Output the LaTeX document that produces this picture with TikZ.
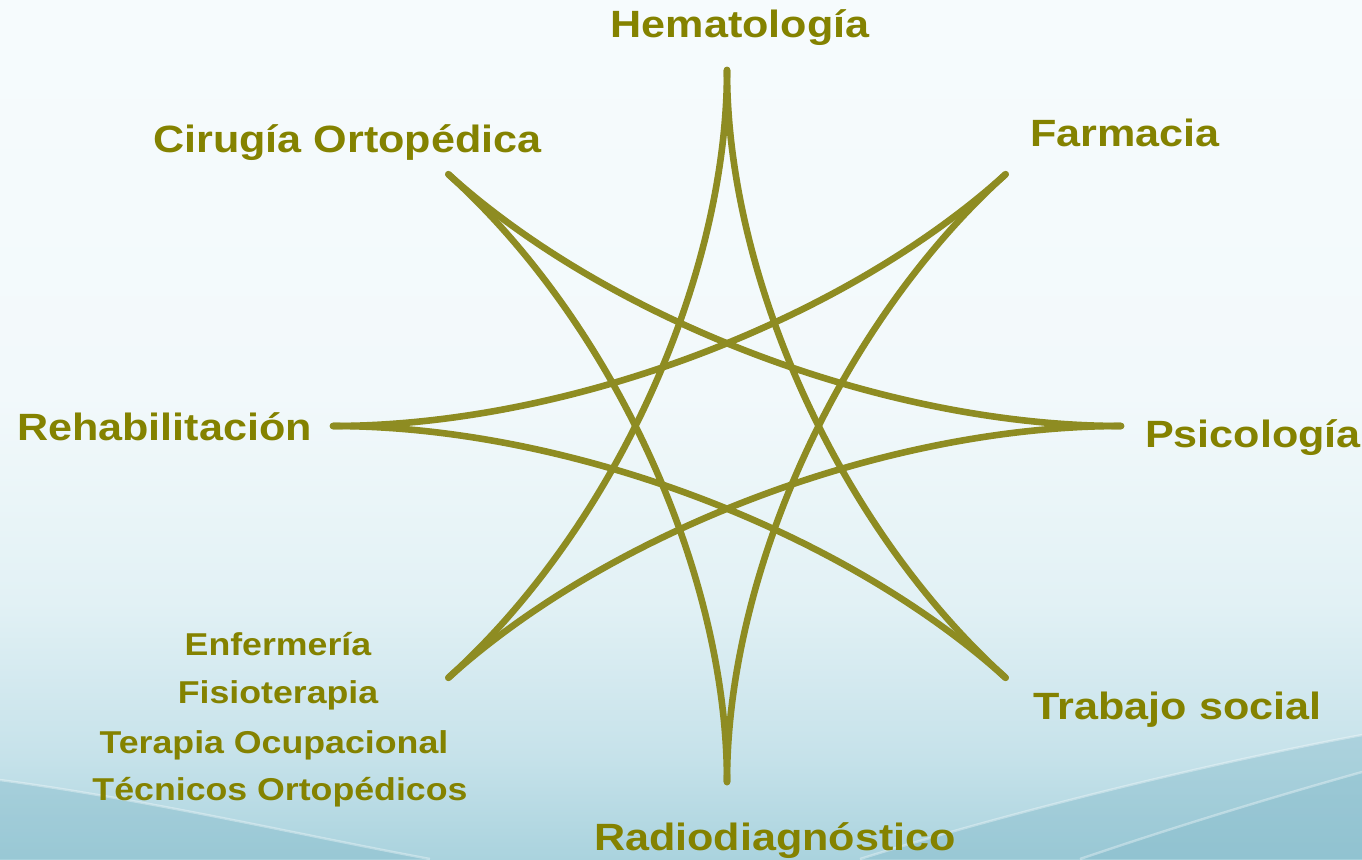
\documentclass[tikz,border=0pt]{standalone}
\usepackage{fontspec}
\setmainfont{Liberation Sans}
\definecolor{starcol}{RGB}{142,140,34}
\definecolor{labcol}{RGB}{132,130,0}
\definecolor{bgT}{RGB}{246,251,253}
\definecolor{bgA}{RGB}{242,249,251}
\definecolor{bgB}{RGB}{226,241,245}
\definecolor{bgC}{RGB}{198,226,234}
\definecolor{bgD}{RGB}{170,211,222}
\definecolor{waveD}{RGB}{128,184,200}
\pgfdeclareverticalshading{bgshade}{100bp}{color(0bp)=(bgD); color(25bp)=(bgD); color(31bp)=(bgC); color(40bp)=(bgB); color(52bp)=(bgA); color(75bp)=(bgT); color(100bp)=(bgT)}
\tikzset{
  starline/.style={draw=starcol, line width=3.3pt, line cap=round},
  lab/.style={text=labcol, font=\fontsize{19}{21}\selectfont\bfseries, inner sep=0pt, anchor=base},
  sublab/.style={text=labcol, font=\fontsize{15.8}{18}\selectfont\bfseries, inner sep=0pt, anchor=base},
  wave/.style={fill=waveD, fill opacity=0.4, draw=none},
  waveline/.style={draw=white, line width=1.2pt, draw opacity=0.35}
}
\newcommand{\wl}[1]{\scalebox{1.135}[1]{#1}}
\newcommand{\ws}[1]{\scalebox{1.13}[1]{#1}}
\begin{document}
\begin{tikzpicture}[x=0.5pt,y=-0.5pt]
\useasboundingbox (0,0) rectangle (1362,859);
\shade[shading=bgshade] (0,0) rectangle (1362,859);
% background waves
\fill[wave] (0,780) .. controls (150,800) and (300,835) .. (430,859) -- (0,859) -- cycle;
\draw[waveline] (0,780) .. controls (150,800) and (300,835) .. (430,859);
\fill[wave] (860,859) .. controls (1000,815) and (1200,765) .. (1362,735) -- (1362,859) -- cycle;
\draw[waveline] (860,859) .. controls (1000,815) and (1200,765) .. (1362,735);
\fill[wave, fill opacity=0.3] (1080,859) .. controls (1180,825) and (1280,795) .. (1362,772) -- (1362,859) -- cycle;
\draw[waveline] (1080,859) .. controls (1180,825) and (1280,795) .. (1362,772);

% star
\begin{scope}[shift={(727,426)}, x={(197pt,0pt)}, y={(0pt,178pt)}]
  \foreach \i in {0,...,7}{
    \coordinate (v\i) at ({cos(90-45*\i)},{sin(90-45*\i)});
    \coordinate (c\i) at ({0.41*cos(90-45*\i)},{0.41*sin(90-45*\i)});
  }
  \foreach \i in {0,...,7}{
    \pgfmathtruncatemacro\j{mod(\i+3,8)}
    \draw[starline] (v\i) .. controls (c\i) and (c\j) .. (v\j);
  }
\end{scope}

% labels
\node[lab] (hem) at (740,37) {\wl{Hematología}};
\node[lab] (far) at (1125,146) {\wl{Farmacia}};
\node[lab] (cir) at (347.5,152) {\wl{Cirugía Ortopédica}};
\node[lab] (reh) at (164.5,440) {\wl{Rehabilitación}};
\node[lab] (psi) at (1253,447) {\wl{Psicología}};
\node[lab] (tra) at (1177.5,719) {\wl{Trabajo social}};
\node[lab] (rad) at (775,850) {\wl{Radiodiagnóstico}};
\node[sublab] (enf) at (278,655) {\ws{Enfermería}};
\node[sublab] (fis) at (278,703) {\ws{Fisioterapia}};
\node[sublab] (ter) at (274,753) {\ws{Terapia Ocupacional}};
\node[sublab] (tec) at (280,800) {\ws{Técnicos Ortopédicos}};
\end{tikzpicture}
\end{document}
